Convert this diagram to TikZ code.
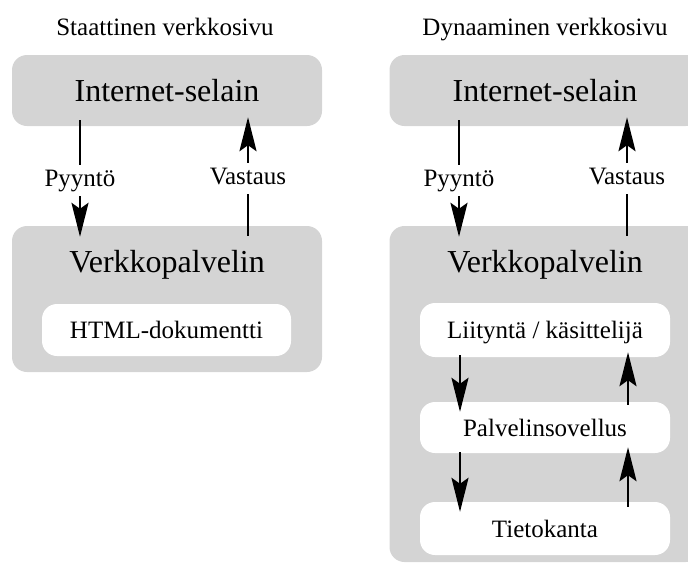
\documentclass[tikz,border=0pt]{standalone}
\usepackage{fontspec}
\setmainfont{Liberation Serif}
\usetikzlibrary{arrows.meta}
\definecolor{boxgray}{RGB}{212,212,212}

\begin{document}
\begin{tikzpicture}[x=1pt,y=-1pt,
    graybox/.style={fill=boxgray,rounded corners=15pt,inner sep=0pt},
    whitebox/.style={fill=white,rounded corners=15pt,minimum width=250pt,inner sep=0pt,
      text height=17pt,text depth=0pt,font=\fontsize{25}{30}\selectfont},
    big/.style={font=\fontsize{32}{38}\selectfont},
    lbl/.style={fill=white,inner sep=4pt,text height=17pt,text depth=6pt,
      font=\fontsize{25}{30}\selectfont},
    arr/.style={line width=2.5pt,-{Stealth[length=34pt,width=17pt,inset=6pt]}}]
  \useasboundingbox (0,0) rectangle (688,563);

  % static page
  \node[anchor=base,font=\fontsize{25}{30}\selectfont] (title1) at (165,35) {Staattinen verkkosivu};
  \node[graybox,big,minimum width=310pt,minimum height=71pt] (selain1) at (167,90.5) {Internet-selain};
  \node[graybox,minimum width=310pt,minimum height=146pt] (palv1) at (167,299) {};
  \node[big,anchor=base] (palv1txt) at (167,272) {Verkkopalvelin};
  \node[whitebox,minimum width=249pt,minimum height=52pt] (html) at (166.5,330) {HTML-dokumentti};
  \draw[arr] ([xshift=-87pt,yshift=6pt]selain1.south) -- node[lbl,pos=0.52] (pyy1) {Pyyntö} ([xshift=-87pt,yshift=-11pt]palv1.north);
  \draw[arr] ([xshift=81pt,yshift=-10pt]palv1.north) -- node[lbl,pos=0.48] (vas1) {Vastaus} ([xshift=81pt,yshift=9pt]selain1.south);

  % dynamic page
  \node[anchor=base,font=\fontsize{25}{30}\selectfont] (title2) at (545,35) {Dynaaminen verkkosivu};
  \node[graybox,big,minimum width=311pt,minimum height=71pt] (selain2) at (545,90.5) {Internet-selain};
  \node[graybox,minimum width=311pt,minimum height=336pt] (palv2) at (545,394) {};
  \node[big,anchor=base] (palv2txt) at (545,272) {Verkkopalvelin};
  \node[whitebox,minimum height=54pt] (liit) at (545,330) {Liityntä / käsittelijä};
  \node[whitebox,minimum height=51pt] (psov) at (545,427.5) {Palvelinsovellus};
  \node[whitebox,minimum height=53pt] (tieto) at (545,528.5) {Tietokanta};
  \draw[arr] ([xshift=-86pt,yshift=6pt]selain2.south) -- node[lbl,pos=0.52] (pyy2) {Pyyntö} ([xshift=-86pt,yshift=-11pt]palv2.north);
  \draw[arr] ([xshift=82pt,yshift=-10pt]palv2.north) -- node[lbl,pos=0.48] (vas2) {Vastaus} ([xshift=82pt,yshift=9pt]selain2.south);
  \draw[arr] ([xshift=-85pt,yshift=2pt]liit.south) -- ([xshift=-85pt,yshift=-10pt]psov.north);
  \draw[arr] ([xshift=83pt,yshift=-3pt]psov.north) -- ([xshift=83pt,yshift=5pt]liit.south);
  \draw[arr] ([xshift=-85pt,yshift=1pt]psov.south) -- ([xshift=-85pt,yshift=-10pt]tieto.north);
  \draw[arr] ([xshift=83pt,yshift=-5pt]tieto.north) -- ([xshift=83pt,yshift=6pt]psov.south);
\end{tikzpicture}
\end{document}
